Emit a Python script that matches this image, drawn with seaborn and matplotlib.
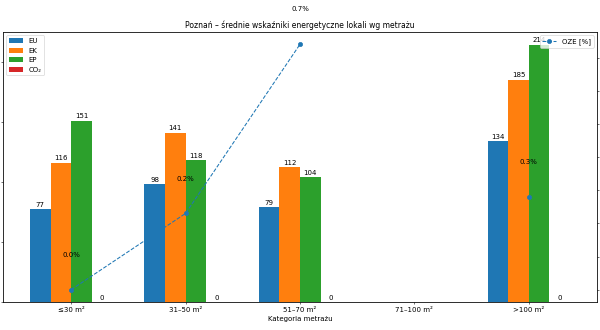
import numpy as np
import pandas as pd
import seaborn as sns
import matplotlib
matplotlib.use("Agg")
import matplotlib.pyplot as plt
from matplotlib.ticker import MultipleLocator

# Dane
kategorie = ["≤30 m²", "31–50 m²", "51–70 m²", "71–100 m²", ">100 m²"]
eu = [77, 98, 79, np.nan, 134]
ek = [116, 141, 112, np.nan, 185]
ep = [151, 118, 104, np.nan, 214]
co2 = [0, 0, 0, np.nan, 0]
oze = [0.0, 0.23, 0.74, np.nan, 0.28]

wskazniki = ["EU", "EK", "EP", "CO₂"]
kolory = ["#1f77b4", "#ff7f0e", "#2ca02c", "#d62728"]

df = pd.DataFrame({"Kategoria": kategorie, "EU": eu, "EK": ek, "EP": ep, "CO₂": co2})
df_long = df.melt(id_vars="Kategoria", var_name="Wskaźnik", value_name="Wartość")

fig = plt.figure(figsize=(12, 6.6), dpi=50)
ax = fig.add_axes([0.005, 0.085, 0.99, 0.818])

sns.barplot(data=df_long, x="Kategoria", y="Wartość", hue="Wskaźnik",
            order=kategorie, hue_order=wskazniki, palette=kolory,
            saturation=1, width=0.72, errorbar=None, ax=ax)

for cont in ax.containers:
    ax.bar_label(cont, fmt="%.0f", padding=2)

ax.set_xlim(-0.596, 4.596)
ax.yaxis.set_major_locator(MultipleLocator(50))
ax.set_xlabel("Kategoria metrażu")
ax.set_ylabel("Wartość")
ax.set_title("Poznań – średnie wskaźniki energetyczne lokali wg metrażu", fontsize=11)
ax.legend(loc="upper left", title=None)

# Oś pomocnicza: udział OZE
ax2 = ax.twinx()
x = np.arange(len(kategorie))
ax2.plot(x, oze, linestyle="--", marker="o", color="#1f77b4", label="OZE [%]")
for xi, v in zip(x, oze):
    if not np.isnan(v):
        ax2.text(xi, v + 0.105, f"{v:.1f}%", ha="center", va="center")
ax2.set_ylabel("OZE [%]")
ax2.legend(loc="upper right")

fig.savefig("out.png", dpi=50)
